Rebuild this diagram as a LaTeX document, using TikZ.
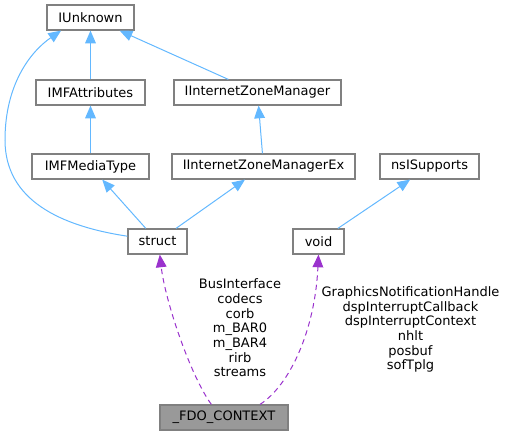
\documentclass[tikz,border=0pt]{standalone}
\usepackage{fontspec}
\setmainfont{DejaVu Sans}
\usetikzlibrary{arrows.meta}
\definecolor{edgeblue}{HTML}{63B8FF}
\definecolor{edgepurple}{HTML}{9A32CD}
\definecolor{boxgray}{HTML}{808080}
\definecolor{fillgray}{HTML}{999999}

\begin{document}
\begin{tikzpicture}[x=0.75pt, y=-0.75pt,
        cls/.style={draw=boxgray, line width=0.9pt, fill=white, rectangle, minimum height=18.75pt, inner sep=0pt, font=\fontsize{9.75}{11}\selectfont},
        focus/.style={cls, fill=fillgray},
        inherit/.style={-{Triangle[length=9.5pt, width=8pt]}, edgeblue, line width=0.75pt},
        member/.style={-{Triangle[length=9.5pt, width=8pt]}, edgepurple, dash pattern=on 4pt off 3pt, line width=0.75pt},
        memlabel/.style={align=center, font=\fontsize{9.75}{11}\selectfont}
    ]
        \useasboundingbox (0,0) rectangle (506,436);

        % --- Interface classes ---
        \node[cls, minimum width=65.25pt] (iunknown) at (90.5, 17.5) {IUnknown};
        \node[cls, minimum width=81.75pt] (imfattr) at (90.5, 92.5) {IMFAttributes};
        \node[cls, minimum width=125.25pt] (izonemgr) at (257.5, 92.5) {IInternetZoneManager};
        \node[cls, minimum width=87.75pt] (imfmedia) at (90.5, 166.5) {IMFMediaType};
        \node[cls, minimum width=137.25pt] (izonemgrex) at (263.5, 166.5) {IInternetZoneManagerEx};
        \node[cls, minimum width=74.25pt] (nssupports) at (429.5, 166.5) {nsISupports};

        % --- Member types ---
        \node[cls, minimum width=44.25pt] (structnode) at (157.5, 241.5) {struct};
        \node[cls, minimum width=38.25pt] (voidnode) at (318.5, 241.5) {void};

        % --- Documented struct ---
        \node[focus, minimum width=96pt] (fdo) at (224, 417.5) {\_FDO\_CONTEXT};

        % --- Inheritance arrows ---
        \draw[inherit] (imfattr) -- (iunknown);
        \draw[inherit] (izonemgr) -- (iunknown);
        \draw[inherit] (imfmedia) -- (imfattr);
        \draw[inherit] (izonemgrex) -- (izonemgr);
        \draw[inherit] (structnode) -- (imfmedia);
        \draw[inherit] (structnode) -- (izonemgrex);
        \draw[inherit] (structnode.170) .. controls (60, 226) and (5, 200) .. (5, 140)
            .. controls (5, 85) and (30, 52) .. (iunknown.-156);
        \draw[inherit] (voidnode) -- (nssupports);

        % --- Member usage arrows ---
        \draw[member] (fdo.134) .. controls (190, 375) and (165, 300) .. (structnode.-80);
        \draw[member] (fdo.20) .. controls (290, 385) and (315, 330) .. (voidnode.south);

        \node[memlabel] (structvars) at (240, 328) {BusInterface\\codecs\\corb\\m\_BAR0\\m\_BAR4\\rirb\\streams};
        \node[memlabel] (voidvars) at (410.5, 329.5) {GraphicsNotificationHandle\\dspInterruptCallback\\dspInterruptContext\\nhlt\\posbuf\\sofTplg};

    \end{tikzpicture}
\end{document}
